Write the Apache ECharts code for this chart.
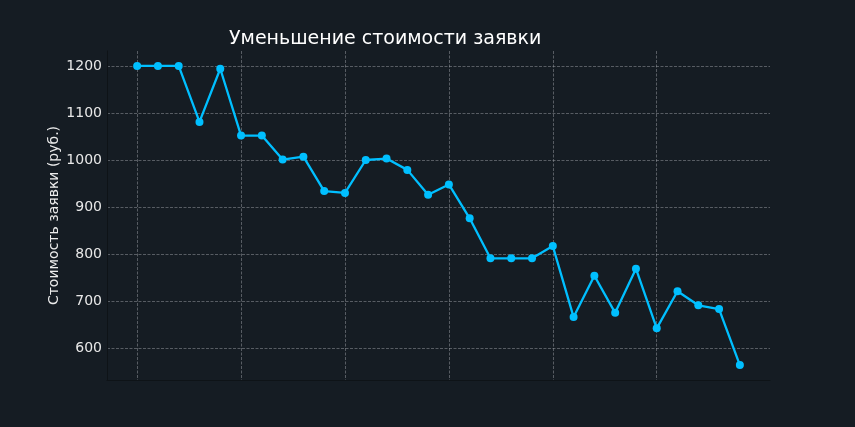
<!DOCTYPE html>
<html>
<head>
<meta charset="utf-8">
<script src="https://cdn.jsdelivr.net/npm/echarts@6/dist/echarts.min.js"></script>
<style>
html,body{margin:0;padding:0;background:#151c23;}
#chart{width:855px;height:427px;}
</style>
</head>
<body>
<div id="chart"></div>
<script>
var titleText = 'Уменьшение стоимости заявки';
var yName = 'Стоимость заявки (руб.)';
var costValues = [1200, 1200, 1200, 1081, 1194, 1052, 1052, 1001, 1007, 934, 930, 1000, 1003, 979, 926, 948, 876, 791, 791, 791, 817, 666, 754, 675, 769, 642, 721, 691, 683, 564];
var yTicks = [600, 700, 800, 900, 1000, 1100, 1200];
var xTicks = [0, 5, 10, 15, 20, 25];

var points = costValues.map(function (v, i) { return [i, v]; });
var n = costValues.length;
var vMin = Math.min.apply(null, costValues), vMax = Math.max.apply(null, costValues);
var yPad = (vMax - vMin) * 0.05, xPad = (n - 1) * 0.05;

var FONT = '"DejaVu Sans", sans-serif';
var gridLine = { show: true, lineStyle: { color: 'rgba(160,165,170,0.6)', width: 0.8, type: [3, 1.5] } };

var chart = echarts.init(document.getElementById('chart'));
chart.setOption({
  backgroundColor: '#151c23',
  animation: false,
  textStyle: { fontFamily: FONT },
  title: {
    text: titleText, left: 224, top: 25,
    textStyle: { color: '#ffffff', fontSize: 19, fontWeight: 'normal', fontFamily: FONT }
  },
  grid: { left: 107, right: 85, top: 51, bottom: 47, containLabel: false },
  xAxis: {
    type: 'value', min: -xPad, max: n - 1 + xPad,
    axisLine: { show: true, onZero: false, lineStyle: { color: '#0e1317', width: 1 } },
    axisTick: { show: false, customValues: xTicks },
    axisLabel: { show: false, customValues: xTicks },
    splitLine: gridLine
  },
  yAxis: {
    type: 'value', min: vMin - yPad, max: vMax + yPad,
    name: yName, nameLocation: 'middle', nameGap: 46, nameMoveOverlap: false,
    nameTextStyle: { color: '#ececec', fontSize: 14, fontFamily: FONT },
    axisLine: { show: true, onZero: false, lineStyle: { color: '#0e1317', width: 1 } },
    axisTick: { show: false, customValues: yTicks },
    axisLabel: { customValues: yTicks, color: '#e8e8e8', fontSize: 14, fontFamily: FONT, margin: 5,
      formatter: function (v) { return String(v); } },
    splitLine: gridLine
  },
  series: [{
    type: 'line', data: points,
    lineStyle: { color: '#00bfff', width: 2.3 },
    itemStyle: { color: '#00bfff' },
    symbol: 'circle', symbolSize: 8, showSymbol: true
  }]
});
</script>
</body>
</html>
